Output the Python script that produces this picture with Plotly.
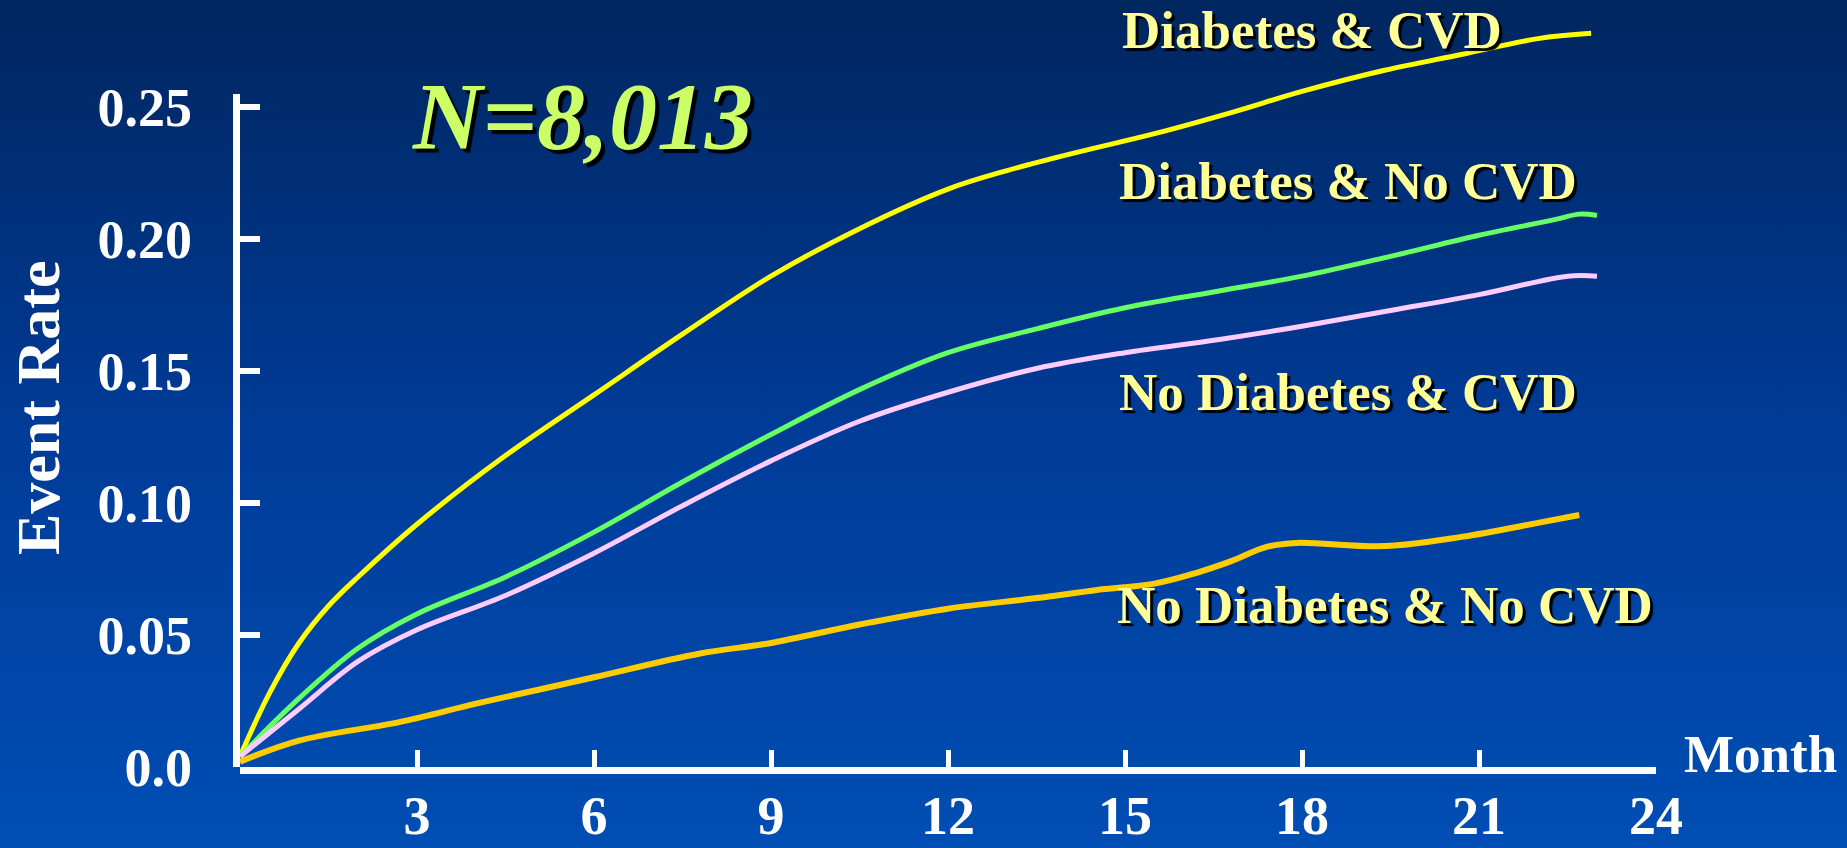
import base64
import plotly.graph_objects as go

# ---------------- data ----------------
series_names = ["Diabetes & CVD", "Diabetes & No CVD", "No Diabetes & CVD", "No Diabetes & No CVD"]

months_dm_cvd = [0, 0.5, 1.0, 1.5, 2.0, 3.0, 4.5, 6.0, 7.5, 9.0, 10.5, 12.0, 13.0, 14.2, 15.5, 16.8, 18.0, 19.4, 20.7, 22.0, 22.9]
rate_dm_cvd = [0.004, 0.028, 0.047, 0.061, 0.072, 0.092, 0.118, 0.141, 0.164, 0.186, 0.204, 0.219, 0.226, 0.233, 0.240, 0.248, 0.256, 0.264, 0.270, 0.276, 0.278]

months_dm_nocvd = [0, 1.0, 2.0, 3.0, 4.5, 6.0, 7.5, 9.0, 10.5, 12.0, 13.5, 15.0, 16.5, 18.0, 19.5, 21.0, 22.3, 22.7, 23.0]
rate_dm_nocvd = [0.004, 0.026, 0.045, 0.058, 0.072, 0.089, 0.108, 0.126, 0.143, 0.157, 0.166, 0.174, 0.180, 0.186, 0.1935, 0.2015, 0.2075, 0.2095, 0.209]

months_nodm_cvd = [0, 1.0, 2.0, 3.0, 4.5, 6.0, 7.5, 9.0, 10.5, 12.0, 13.5, 15.0, 16.6, 18.0, 19.5, 21.0, 22.5, 23.0]
rate_nodm_cvd = [0.004, 0.022, 0.040, 0.052, 0.065, 0.081, 0.099, 0.116, 0.131, 0.142, 0.151, 0.157, 0.162, 0.167, 0.173, 0.179, 0.186, 0.186]

months_nodm_nocvd = [0, 1.0, 2.7, 4.0, 5.0, 6.0, 7.8, 9.0, 10.5, 12.0, 13.5, 14.5, 15.5, 16.2, 16.8, 17.4, 17.9, 19.4, 20.7, 22.0, 22.7]
rate_nodm_nocvd = [0.002, 0.010, 0.017, 0.024, 0.029, 0.034, 0.043, 0.047, 0.054, 0.060, 0.064, 0.067, 0.0695, 0.0735, 0.078, 0.0834, 0.0849, 0.0837, 0.0872, 0.0925, 0.0955]

x_ticks = [3, 6, 9, 12, 15, 18, 21, 24]
x_ticklabels = ["3", "6", "9", "12", "15", "18", "21", "24"]
y_ticks = [0.0, 0.05, 0.10, 0.15, 0.20, 0.25]
y_ticklabels = ["0.0", "0.05", "0.10", "0.15", "0.20", "0.25"]
y_axis_top = 0.255
title_text = "N=8,013"
x_title = "Month"
y_title = "Event Rate"

# ---------------- layout geometry ----------------
W, H = 1847, 848
L, R, B = 240, 1656, 767
Y_SCALE = 2639.0            # pixels per unit of event rate
T = 14                      # top of plotting area (lets the top curve run above the axis end)
Y_MAX = (B - T) / Y_SCALE
PW, PH = R - L, B - T


def px(x):
    return (x - L) / PW


def py(y):
    return (B - y) / PH


SERIF = "Liberation Serif, Times New Roman, serif"
LABEL_COLOR = "#FFFF99"
SHADOW = "3px 3px 1px #000000"

colors = ["#FFFF00", "#66FF66", "#FFCCFF", "#FFCC00"]
widths = [5, 5, 5, 6]
xs = [months_dm_cvd, months_dm_nocvd, months_nodm_cvd, months_nodm_nocvd]
ys = [rate_dm_cvd, rate_dm_nocvd, rate_nodm_cvd, rate_nodm_nocvd]

fig = go.Figure()
for name, x, y, c, w in zip(series_names, xs, ys, colors, widths):
    fig.add_trace(go.Scatter(
        x=x, y=y, mode="lines", name=name,
        line=dict(color=c, width=w, shape="spline", smoothing=1.0),
        cliponaxis=False, showlegend=False, hoverinfo="skip",
    ))

# background gradient
svg = (
    '<svg xmlns="http://www.w3.org/2000/svg" viewBox="0 0 100 100" width="100" height="100" '
    'preserveAspectRatio="none">'
    '<defs><linearGradient id="g" x1="0" y1="0" x2="0" y2="1">'
    '<stop offset="0" stop-color="#00265F"/>'
    '<stop offset="0.5" stop-color="#003B97"/>'
    '<stop offset="1" stop-color="#004EB4"/>'
    '</linearGradient></defs>'
    '<rect x="0" y="0" width="100" height="100" fill="url(#g)"/></svg>'
)
bg_src = "data:image/svg+xml;base64," + base64.b64encode(svg.encode()).decode()

label_pos = [(1120, 30), (1117, 181), (1117, 392), (1115, 605)]
annotations = []
for name, (lx, ly) in zip(series_names, label_pos):
    annotations.append(dict(
        x=px(lx), y=py(ly), xref="paper", yref="paper", xanchor="left", yanchor="middle",
        text=name, showarrow=False,
        font=dict(family=SERIF, size=53, color=LABEL_COLOR, weight="bold", shadow=SHADOW),
    ))

annotations.append(dict(
    x=px(410), y=py(116), xref="paper", yref="paper", xanchor="left", yanchor="middle",
    text="<i>" + title_text + "</i>", showarrow=False,
    font=dict(family=SERIF, size=96, color="#CCFF66", weight="bold", shadow="4px 4px 1px #000000"),
))
annotations.append(dict(
    x=px(1682), y=py(754), xref="paper", yref="paper", xanchor="left", yanchor="middle",
    text=x_title, showarrow=False,
    font=dict(family=SERIF, size=53, color="white", weight="bold"),
))
annotations.append(dict(
    x=px(38), y=py(408), xref="paper", yref="paper", xanchor="center", yanchor="middle",
    text=y_title, textangle=-90, showarrow=False,
    font=dict(family=SERIF, size=62, color="white", weight="bold"),
))

# y axis line only up to the top tick cap
shapes = [dict(
    type="line", xref="paper", yref="y",
    x0=px(236.5), x1=px(236.5), y0=0, y1=y_axis_top,
    line=dict(color="white", width=7), layer="above",
)]

fig.update_layout(
    width=W, height=H,
    margin=dict(l=L, r=W - R, t=T, b=H - B, pad=0, autoexpand=False),
    paper_bgcolor="#003580",
    plot_bgcolor="rgba(0,0,0,0)",
    showlegend=False,
    images=[dict(
        source=bg_src, xref="paper", yref="paper",
        x=px(0), y=py(0), sizex=W / PW, sizey=H / PH,
        xanchor="left", yanchor="top", sizing="stretch", layer="below",
    )],
    annotations=annotations,
    shapes=shapes,
    xaxis=dict(
        range=[0, 24], tickvals=x_ticks, ticktext=x_ticklabels,
        showgrid=False, zeroline=False, showline=True, linecolor="white", linewidth=7,
        ticks="inside", ticklen=17, tickwidth=5, tickcolor="white",
        tickfont=dict(family=SERIF, size=54, color="white", weight="bold"),
        ticklabelstandoff=-5, automargin=False, fixedrange=True,
    ),
    yaxis=dict(
        range=[0, Y_MAX], tickvals=y_ticks, ticktext=y_ticklabels,
        showgrid=False, zeroline=False, showline=False,
        ticks="inside", ticklen=20, tickwidth=6, tickcolor="white",
        tickfont=dict(family=SERIF, size=54, color="white", weight="bold"),
        ticklabelstandoff=47, automargin=False, fixedrange=True,
    ),
)

fig.write_html("out.html")
